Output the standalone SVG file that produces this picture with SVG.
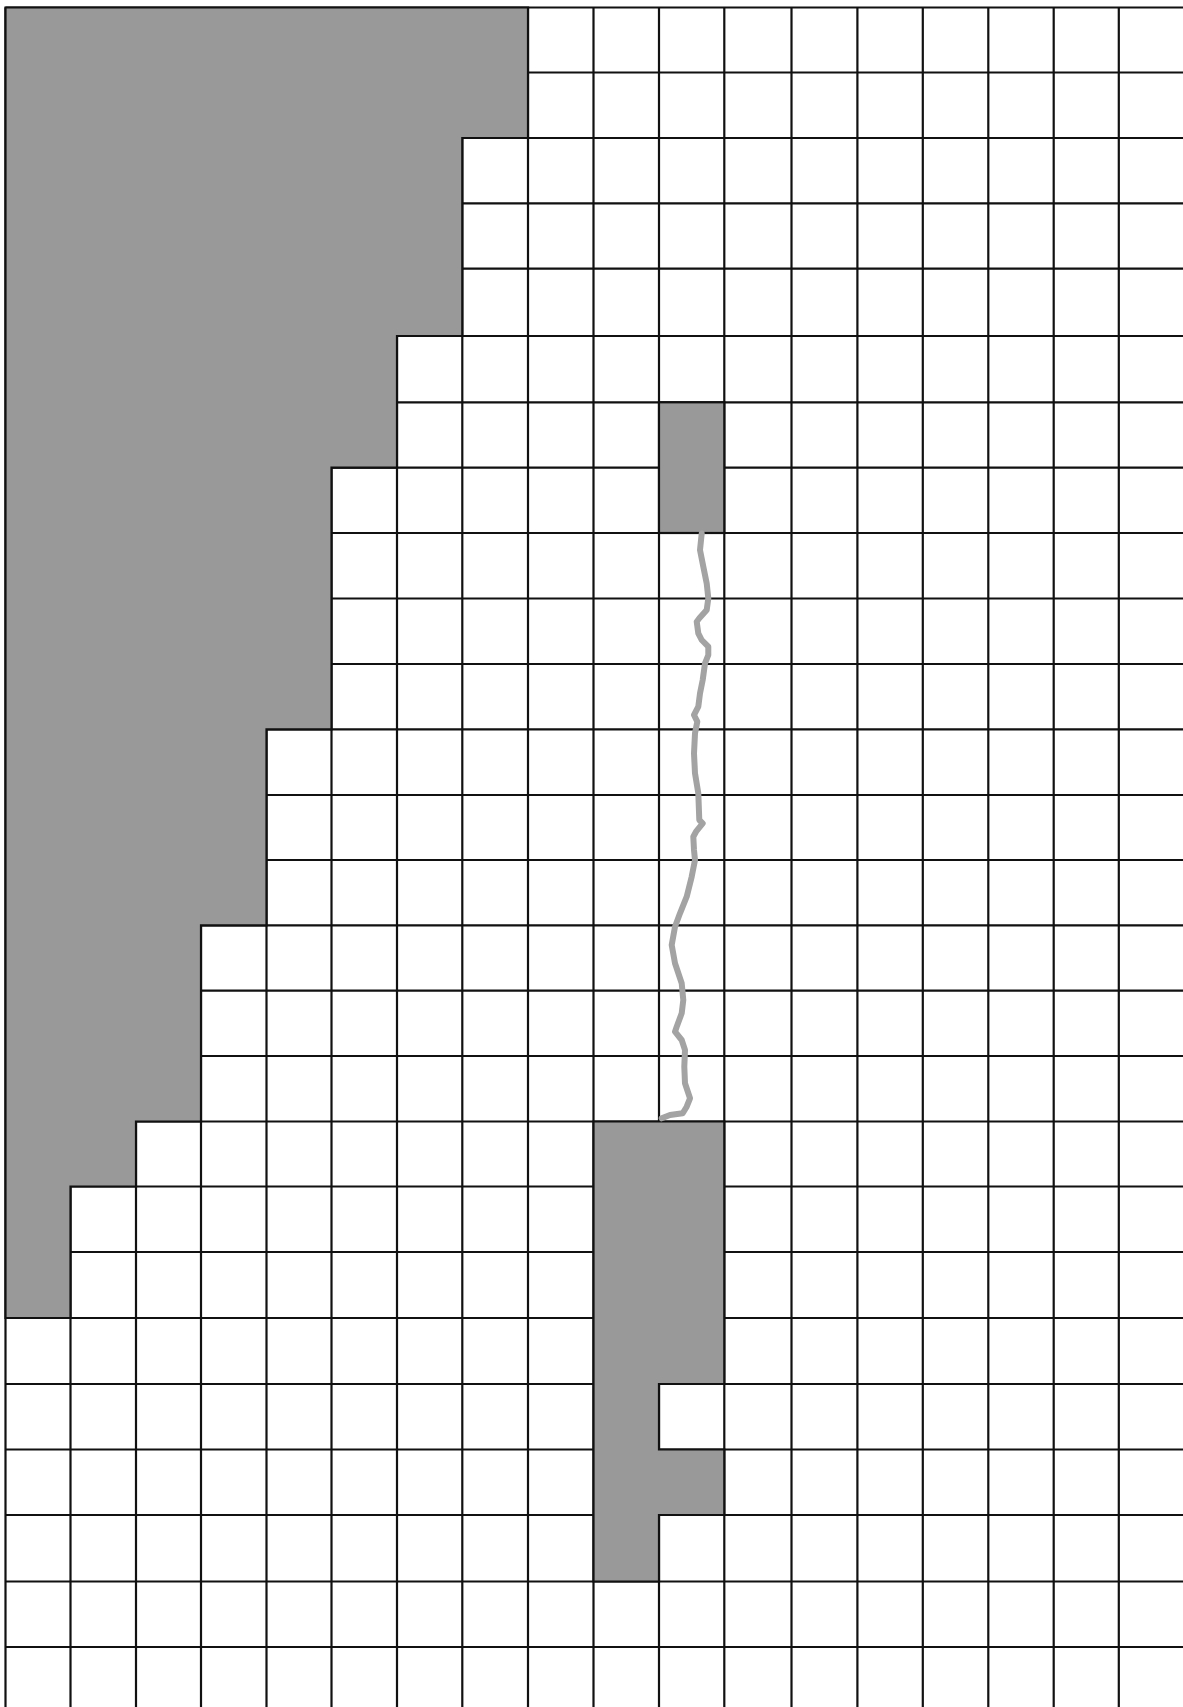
<svg xmlns="http://www.w3.org/2000/svg" width="1183" height="1707" viewBox="0 0 1183 1707">
<style>
.g{stroke:#111111;stroke-width:2.2;fill:none}
.blk{fill:#999999;stroke:#111111;stroke-width:2.2;stroke-linejoin:miter}
.trail{fill:none;stroke:#a3a3a3;stroke-width:6;stroke-linejoin:round;stroke-linecap:round}
</style>
<rect x="0" y="0" width="1183" height="1707" fill="#ffffff"/>
<g id="grid" class="g">
<path d="M5.5,7.5H1183M5.5,72.5H1183M5.5,138H1183M5.5,203.3H1183M5.5,268.7H1183M5.5,336H1183M5.5,402.3H1183M5.5,467.7H1183M5.5,533H1183M5.5,598.5H1183M5.5,664H1183M5.5,729.3H1183M5.5,795H1183M5.5,860H1183M5.5,925.3H1183M5.5,990.7H1183M5.5,1056H1183M5.5,1121.5H1183M5.5,1186.5H1183M5.5,1252H1183M5.5,1318H1183M5.5,1384H1183M5.5,1449.5H1183M5.5,1515H1183M5.5,1581.5H1183M5.5,1647H1183"/>
<path d="M5.5,7.5V1707M70.5,7.5V1707M136,7.5V1707M201,7.5V1707M266.5,7.5V1707M331.5,7.5V1707M397,7.5V1707M462.3,7.5V1707M528,7.5V1707M593.5,7.5V1707M659,7.5V1707M724.3,7.5V1707M791.5,7.5V1707M857.4,7.5V1707M922.8,7.5V1707M988.3,7.5V1707M1053.7,7.5V1707M1118.8,7.5V1707"/>
</g>
<g id="region-left">
<path class="blk" d="M5.5,7.5H528V138H462.3V336H397V467.7H331.5V729.3H266.5V925.3H201V1121.5H136V1186.5H70.5V1318H5.5Z"/>
</g>
<g id="block-top">
<rect class="blk" x="659" y="402.3" width="65.3" height="130.7"/>
</g>
<g id="block-bottom">
<path class="blk" d="M593.5,1121.5H724.3V1384H659V1449.5H724.3V1515H659V1581.5H593.5Z"/>
</g>
<g id="connectors">
<path class="trail" d="M701.7,533.5L700,550L703.3,566.7L706.7,583.3L708.3,598.3L706.7,610L699.3,618.3L696.7,621.7L698.3,633.3L701.7,640L708.3,646.7L708.3,655L705,663.3L702.7,680L700,693.3L698.3,706.7L694,715L697.3,721.7L695,733.3L694,753.3L695,773.3L698.3,793.3L699.3,820L702.7,823.3L696,831.7L693.3,836.7L694,850L695,860L691.7,876.7L686.7,896.7L680,913.3L675,926.7L671.7,945L675,963.3L681.7,983.3L683.3,1000L681.7,1013.3L676.7,1026.7L675,1031.7L681.7,1040L685,1050L684.3,1066.7L685,1083.3L690,1098.3L686.7,1106.7L682.7,1113.3L670,1115L661.7,1118.3"/>
</g>
</svg>
